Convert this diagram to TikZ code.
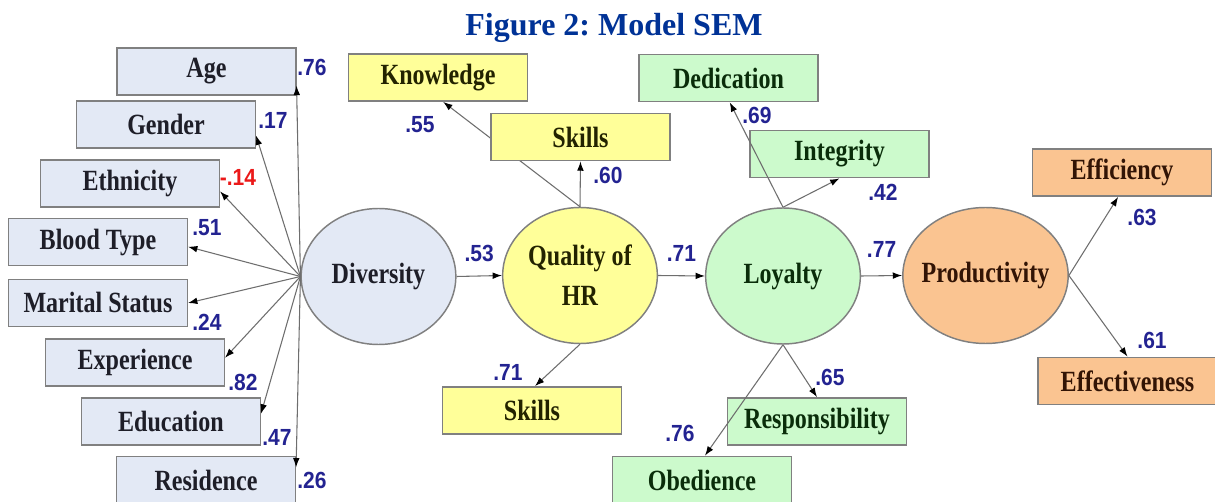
\documentclass[tikz,border=0pt]{standalone}
\usepackage{fontspec}
\setmainfont{Liberation Serif}
\newfontfamily\boxfont[FakeStretch=0.82]{Liberation Serif}
\newfontfamily\numfont[FakeStretch=0.9]{Liberation Sans}
\usetikzlibrary{arrows.meta,shapes.geometric}
\frenchspacing

\definecolor{titleblue}{RGB}{0,50,150}
\definecolor{coefblue}{RGB}{35,35,145}
\definecolor{coefred}{RGB}{235,25,25}
\definecolor{boxline}{RGB}{128,128,128}
\definecolor{linegrey}{RGB}{110,110,110}
\definecolor{demofill}{RGB}{227,233,245}
\definecolor{hrfill}{RGB}{255,255,153}
\definecolor{loyfill}{RGB}{204,250,204}
\definecolor{prodfill}{RGB}{250,196,145}
\definecolor{demotext}{RGB}{30,30,40}
\definecolor{hrtext}{RGB}{35,35,0}
\definecolor{loytext}{RGB}{10,45,10}
\definecolor{prodtext}{RGB}{50,20,5}

\tikzset{
  obsbox/.style={draw=boxline, line width=1.1pt, minimum width=134pt, minimum height=35.5pt,
    inner sep=0pt, font=\boxfont\bfseries\fontsize{22}{26}\selectfont},
  demo/.style={obsbox, fill=demofill, text=demotext},
  hrbox/.style={obsbox, fill=hrfill, text=hrtext},
  loybox/.style={obsbox, fill=loyfill, text=loytext},
  prodbox/.style={obsbox, fill=prodfill, text=prodtext},
  latent/.style={ellipse, draw=boxline, line width=1.1pt, inner sep=0pt,
    minimum width=116pt, minimum height=102pt},
  every label/.style={font=\boxfont\bfseries\fontsize{22}{30}\selectfont, align=center},
  coef/.style={font=\numfont\bfseries\fontsize{17.5}{20}\selectfont, text=coefblue, inner sep=0pt},
  link/.style={draw=linegrey, line width=0.8pt, -{Latex[length=7pt,width=5pt,color=black]}},
  title/.style={font=\bfseries\fontsize{24}{28}\selectfont, text=titleblue}
}

\begin{document}
\begin{tikzpicture}[x=0.75pt,y=-0.75pt]
\useasboundingbox (0,0) rectangle (1215,502);
\node[title] (ttl) at (614,28) {Figure 2: Model SEM};

% latent variables
\node[latent, fill=demofill, label={[text=demotext]center:Diversity}] (div) at (378.5,276.5) {};
\node[latent, fill=hrfill, label={[text=hrtext]center:Quality of\\HR}] (qual) at (580,275.5) {};
\node[latent, fill=loyfill, label={[text=loytext]center:Loyalty}] (loy) at (783,276) {};
\node[latent, fill=prodfill, minimum width=124pt, label={[text=prodtext]center:Productivity}] (prod) at (985.5,275.5) {};

% diversity indicators
\node[demo] (age) at (206.5,71.5) {Age};
\node[demo] (gender) at (166,124.5) {Gender};
\node[demo] (ethnic) at (130,183.5) {Ethnicity};
\node[demo] (blood) at (98,242) {Blood Type};
\node[demo] (marital) at (98,303) {Marital Status};
\node[demo] (exper) at (135,362.5) {Experience};
\node[demo] (educ) at (171,421.5) {Education};
\node[demo] (resid) at (206,480) {Residence};
\foreach \b/\a in {age/-9, gender/-7, ethnic/-5, blood/-3, marital/0, exper/3.5, educ/5, resid/8}
  \draw[link] (div.west) -- (\b.\a);

\node[coef] (c-age) at (312,67) {.76};
\node[coef] (c-gender) at (273,120) {.17};
\node[coef, text=coefred] (c-ethnic) at (238,177) {-.14};
\node[coef] (c-blood) at (207,228) {.51};
\node[coef] (c-marital) at (207,322) {.24};
\node[coef] (c-exper) at (243,382) {.82};
\node[coef] (c-educ) at (277,437) {.47};
\node[coef] (c-resid) at (312,480) {.26};

% quality of HR indicators
\node[hrbox] (know) at (438,77.5) {Knowledge};
\draw[link] (qual.north) -- (know.-78);
\node[hrbox] (skilltop) at (580.5,137) {Skills};
\node[hrbox] (skillbot) at (532,410.5) {Skills};
\draw[link] (qual.north) -- (skilltop.south);
\draw[link] (qual.south) -- (skillbot.83);
\node[coef] (c-know) at (420,125) {.55};
\node[coef] (c-skilltop) at (608,175) {.60};
\node[coef] (c-skillbot) at (508,372) {.71};

% loyalty indicators
\node[loybox] (dedic) at (728.5,78) {Dedication};
\node[loybox] (integ) at (839.5,154) {Integrity};
\node[loybox] (respon) at (817,421.5) {Responsibility};
\node[loybox] (obed) at (702,480) {Obedience};
\draw[link] (loy.north) -- (dedic.-87);
\draw[link] (loy.north) -- (integ.south);
\draw[link] (loy.south) -- (respon.north);
\draw[link] (loy.south) -- (obed.83);
\node[coef] (c-dedic) at (757,115) {.69};
\node[coef] (c-integ) at (883,192) {.42};
\node[coef] (c-respon) at (830,377) {.65};
\node[coef] (c-obed) at (680,433) {.76};

% productivity indicators
\node[prodbox] (effic) at (1122,172.5) {Efficiency};
\node[prodbox] (effect) at (1127.5,381) {Effectiveness};
\draw[link] (prod.east) -- (effic.-99);
\draw[link] (prod.east) -- (effect.north);
\node[coef] (c-effic) at (1142,217) {.63};
\node[coef] (c-effect) at (1152,340) {.61};

% structural paths
\draw[link] (div.east) -- (qual.west) node[coef, midway, above=10pt] (c-div) {.53};
\draw[link] (qual.east) -- (loy.west) node[coef, midway, above=10pt] (c-qual) {.71};
\draw[link] (loy.east) -- (prod.west) node[coef, midway, above=13pt] (c-loy) {.77};
\end{tikzpicture}
\end{document}
